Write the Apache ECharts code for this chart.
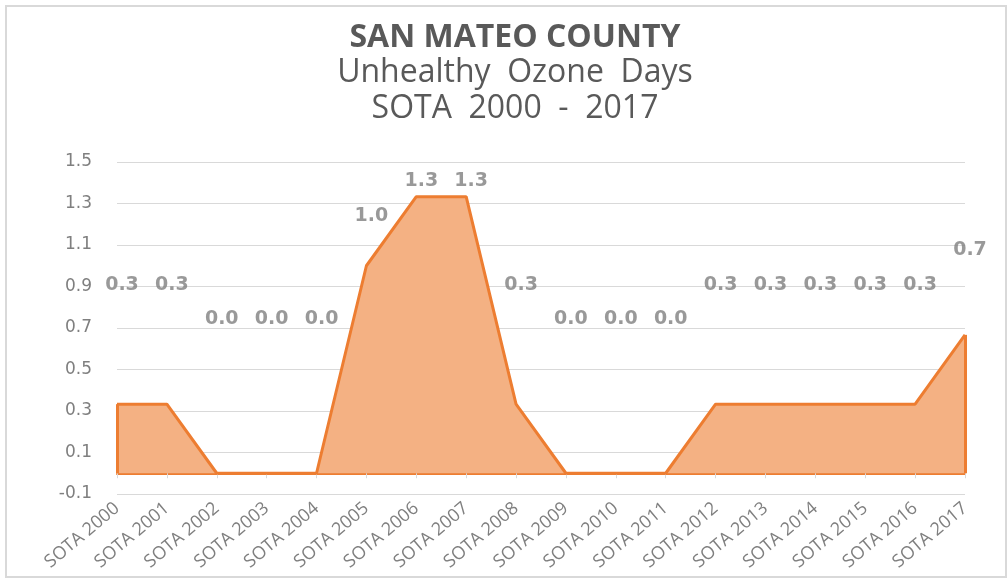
<!DOCTYPE html>
<html><head><meta charset="utf-8">
<script src="https://cdn.jsdelivr.net/npm/echarts@6/dist/echarts.min.js"></script>
<style>html,body{margin:0;padding:0;background:#fff}#c{width:1007px;height:579px}</style>
</head><body><div id="c"></div>
<script>
const categories = ["SOTA 2000","SOTA 2001","SOTA 2002","SOTA 2003","SOTA 2004","SOTA 2005","SOTA 2006","SOTA 2007","SOTA 2008","SOTA 2009","SOTA 2010","SOTA 2011","SOTA 2012","SOTA 2013","SOTA 2014","SOTA 2015","SOTA 2016","SOTA 2017"];
const values = [0.333,0.333,0,0,0,1.0,1.333,1.333,0.333,0,0,0,0.333,0.333,0.333,0.333,0.333,0.667];
const yTicks = [-0.1,0.1,0.3,0.5,0.7,0.9,1.1,1.3,1.5];
const titleLines = ["SAN MATEO COUNTY","Unhealthy  Ozone  Days","SOTA  2000  -  2017"];

const yMin = yTicks[0], yMax = yTicks[yTicks.length-1];
// Excel places these labels halfway between the point and the top of the plot
const labelTop = 1.53;
const labelPos = values.map(v => (v + labelTop) / 2);
const last = values.length - 1;

const chart = echarts.init(document.getElementById('c'));
chart.setOption({
  animation: false,
  graphic: [
    {type:'rect', shape:{x:6,y:6,width:1000,height:571}, style:{fill:'none', stroke:'#d9d9d9', lineWidth:2}},
    {type:'text', x:515, y:38, style:{text:titleLines[0], textAlign:'center', textVerticalAlign:'middle', font:'bold 32px "Open Sans"', fill:'#595959'}},
    {type:'text', x:515, y:73, style:{text:titleLines[1], textAlign:'center', textVerticalAlign:'middle', font:'32px "Open Sans"', fill:'#595959'}},
    {type:'text', x:515, y:109, style:{text:titleLines[2], textAlign:'center', textVerticalAlign:'middle', font:'32px "Open Sans"', fill:'#595959'}}
  ],
  grid: {left:117, right:42, top:162, bottom:85, containLabel:false},
  xAxis: [{
    type:'category', data:categories, boundaryGap:false,
    axisLine:{show:true, onZero:true, lineStyle:{color:'#ed7d31', width:2}},
    axisTick:{show:true, alignWithLabel:true, length:5, lineStyle:{color:'#d9d9d9'}},
    axisLabel:{show:true, rotate:40, margin:12, interval:0, color:'#7f7f7f', fontFamily:'Open Sans', fontSize:18},
    splitLine:{show:false}
  }],
  yAxis: [{
    type:'value', min:yMin, max:yMax, interval:0.2,
    axisLine:{show:false}, axisTick:{show:false},
    axisLabel:{margin:25, color:'#7f7f7f', fontFamily:'DejaVu Sans', fontSize:17, formatter: v => v.toFixed(1)},
    splitLine:{lineStyle:{color:'#d9d9d9', width:1}}
  }],
  series: [
    {
      type:'line', data:values, symbol:'none', z:3,
      lineStyle:{color:'#ed7d31', width:3},
      areaStyle:{color:'#f4b183', opacity:1, origin:0},
      markLine:{
        silent:true, symbol:'none', label:{show:false},
        lineStyle:{color:'#ed7d31', width:3, type:'solid'},
        data:[
          [{coord:[0,0]},{coord:[0,values[0]]}],
          [{coord:[last,0]},{coord:[last,values[last]]}]
        ]
      }
    },
    {
      type:'scatter', data:labelPos.map((p,i)=>({value:p, raw:values[i]})), symbolSize:1, z:5,
      itemStyle:{color:'rgba(0,0,0,0)'},
      label:{show:true, position:'inside', offset:[5,5], color:'#7f7f7f', fontFamily:'DejaVu Sans', fontWeight:'bold', fontSize:19,
        formatter: p => p.data.raw.toFixed(1)}
    }
  ]
});
</script></body></html>
